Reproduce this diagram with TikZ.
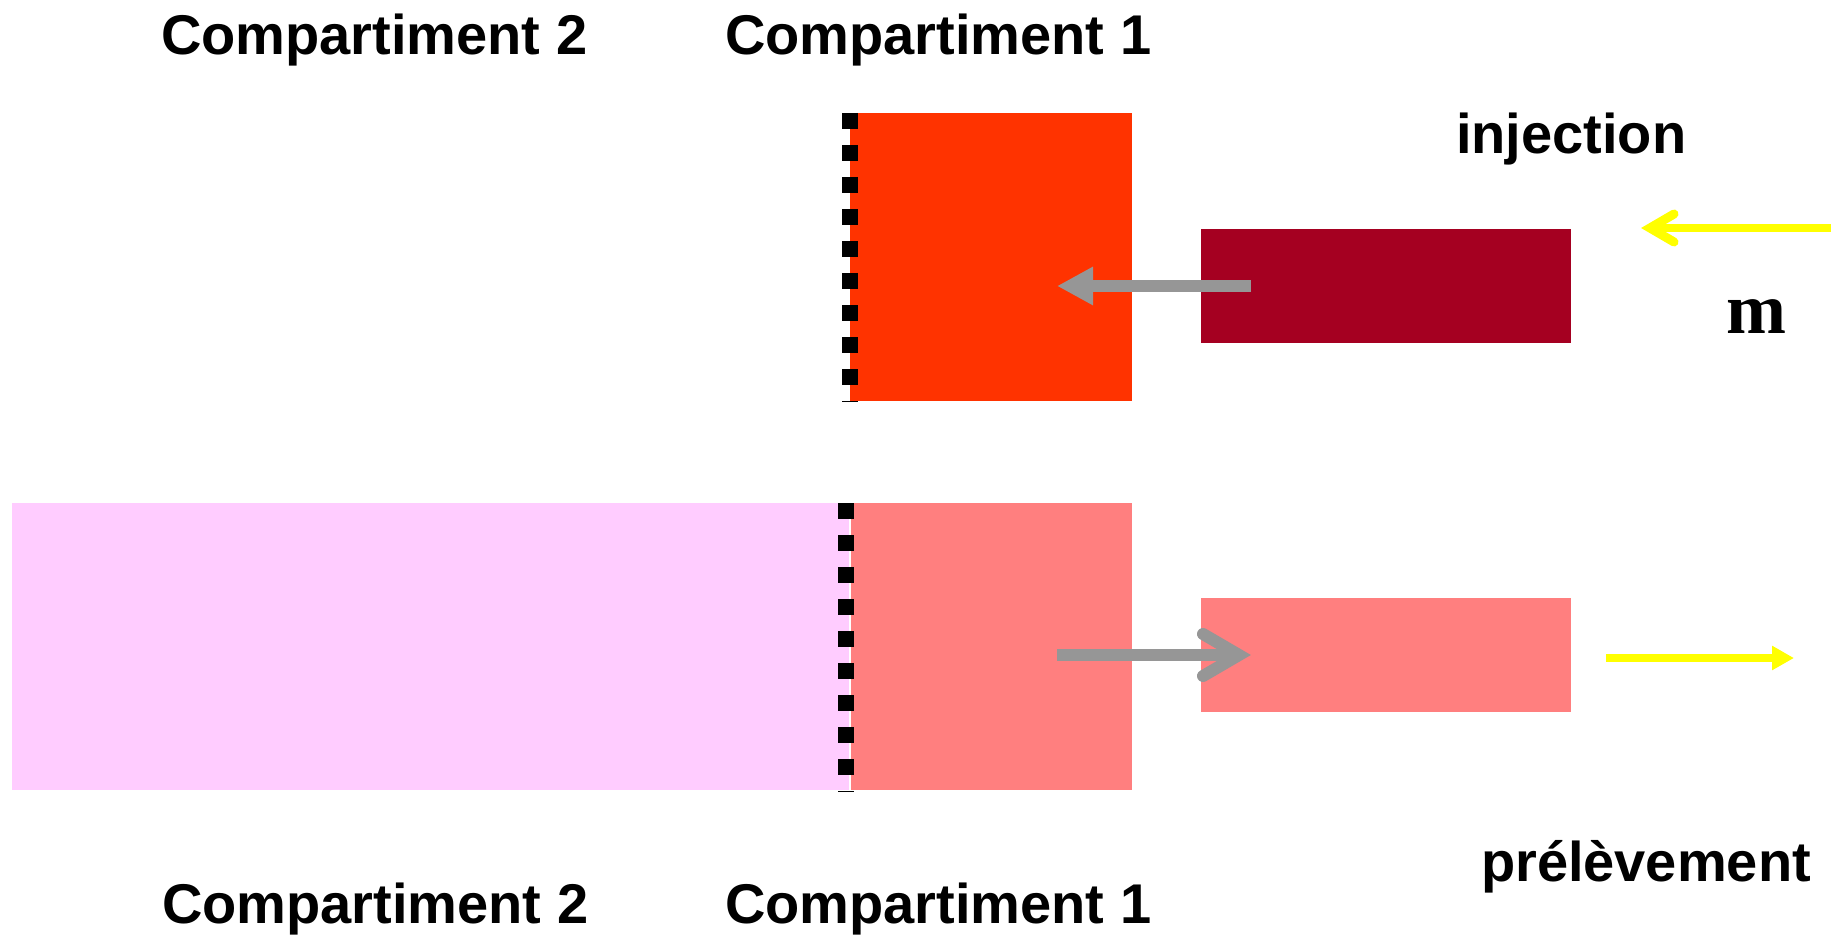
\documentclass[tikz,border=0pt]{standalone}
\usepackage{fontspec}
\setmainfont{Liberation Sans}
\newfontfamily\serifface{Liberation Serif}
\usetikzlibrary{arrows.meta}

\definecolor{freshred}{HTML}{FF3300}
\definecolor{darkred}{HTML}{A50021}
\definecolor{lightpink}{HTML}{FFCCFF}
\definecolor{salmon}{HTML}{FF7F7F}
\definecolor{flowgray}{HTML}{969696}
\definecolor{flowyellow}{HTML}{FFFF00}

\tikzset{
  block/.style={draw=none, inner sep=0pt, outer sep=0pt},
  txt/.style={inner sep=0pt, outer sep=0pt, font=\bfseries\fontsize{56}{60}\selectfont},
  membrane/.style={line width=16pt, dash pattern=on 16pt off 16pt, line cap=butt, black},
  grayflow/.style={line width=12pt, flowgray},
  graybarb/.style={line width=12pt, flowgray, line cap=round, line join=miter},
  yellowflow/.style={line width=8pt, flowyellow},
  yellowbarb/.style={line width=9pt, flowyellow, line cap=round, line join=miter},
}

\begin{document}
\begin{tikzpicture}[x=1pt, y=-1pt]
\path[use as bounding box, fill=white] (0,0) rectangle (1840,936);

% ---- state after injection (top row) ----
\node[block, fill=freshred, minimum width=282pt, minimum height=288pt] (c1top) at (991,257) {};
\node[block, fill=darkred, minimum width=370pt, minimum height=114pt] (syringe) at (1386,286) {};

\coordinate (memtopA) at (849.5,113);
\coordinate (memtopB) at (849.5,402);
\draw[membrane] (memtopA) -- (memtopB);

\coordinate (injfrom) at (1251,286);
\coordinate (injto) at (1057,286);
\draw[grayflow, -{Triangle[length=36pt, width=36pt]}] (injfrom) -- (injto);

\coordinate (yinA) at (1831,228);
\coordinate (yinB) at (1652,228);
\draw[yellowflow] (yinA) -- (yinB);
\coordinate (yinTip) at (1650,228);
\draw[yellowbarb] (1674,214) -- (yinTip) -- (1674,242);

% ---- state after diffusion (bottom row) ----
\node[block, fill=lightpink, minimum width=837pt, minimum height=287pt] (c2bot) at (430.5,646.5) {};
\node[block, fill=salmon, minimum width=281pt, minimum height=287pt] (c1bot) at (991.5,646.5) {};
\node[block, fill=salmon, minimum width=370pt, minimum height=114pt] (sample) at (1386,655) {};

\coordinate (membotA) at (846,503);
\coordinate (membotB) at (846,792);
\draw[membrane] (membotA) -- (membotB);

\coordinate (outfrom) at (1057,655);
\coordinate (outto) at (1240,655);
\draw[grayflow] (outfrom) -- (outto);
\coordinate (outTip) at (1239,655);
\draw[graybarb] (1203,634) -- (outTip) -- (1203,676);

\coordinate (youtA) at (1606,658);
\coordinate (youtB) at (1794,658);
\draw[yellowflow, -{Triangle[length=22pt, width=23pt]}] (youtA) -- (youtB);

% ---- labels ----
\node[txt, anchor=base west] (lab2top) at (161,55) {Compartiment 2};
\node[txt, anchor=base west] (lab1top) at (725,55) {Compartiment 1};
\node[txt, anchor=base west] (lab2bot) at (162,923) {Compartiment 2};
\node[txt, anchor=base west] (lab1bot) at (725,923) {Compartiment 1};
\node[txt, anchor=base west] (labinj) at (1456,154) {injection};
\node[txt, anchor=base west] (labout) at (1481,881) {prélèvement};
\node[inner sep=0pt, anchor=base west, font=\serifface\bfseries\fontsize{72}{76}\selectfont] (labm) at (1726,333) {m};
\end{tikzpicture}
\end{document}
